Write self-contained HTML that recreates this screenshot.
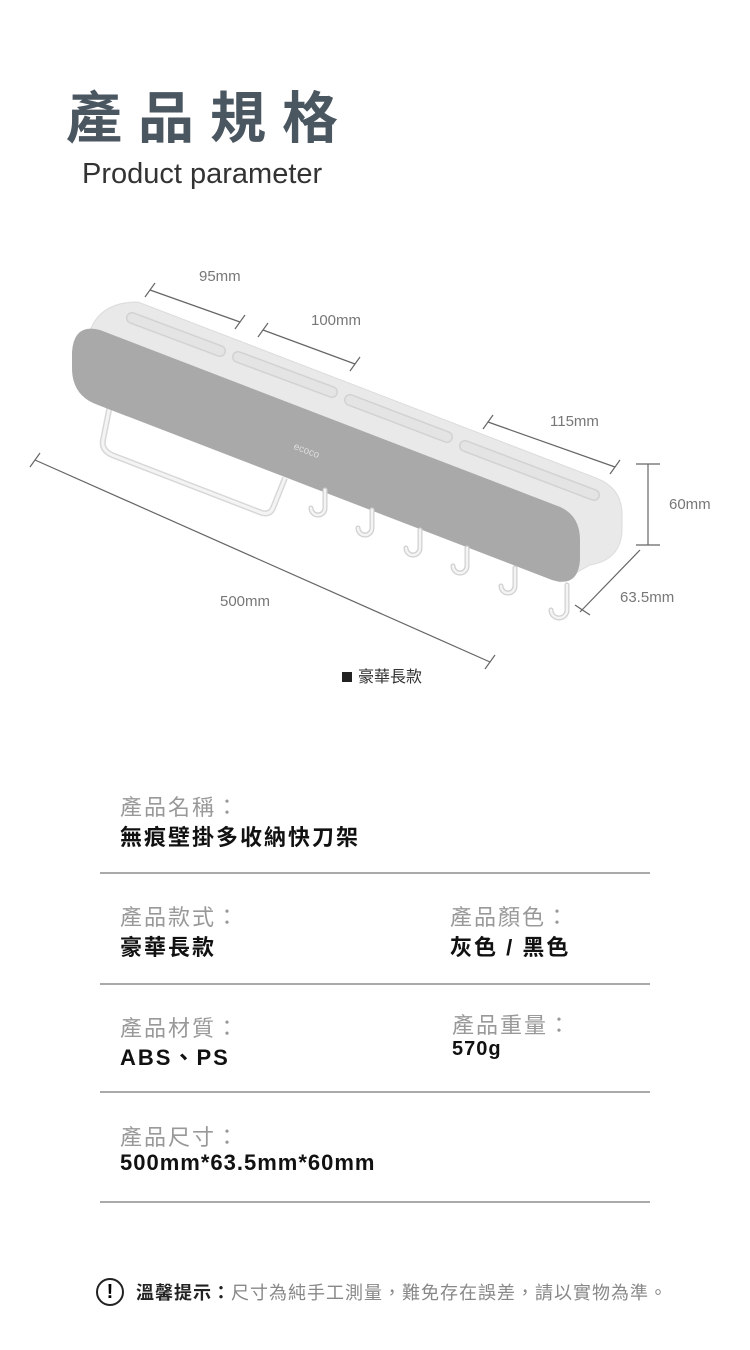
<!DOCTYPE html>
<html><head><meta charset="utf-8"><style>
body{margin:0;width:750px;height:1350px;background:#fff;position:relative;overflow:hidden;font-family:"Liberation Sans","Noto Sans CJK TC",sans-serif}
.a{position:absolute;white-space:nowrap}
.t{font-size:56px;font-weight:bold;letter-spacing:16px;color:#4a5660;left:66px;top:84px;line-height:70px}
.s{font-size:29px;color:#333;left:82px;top:158px}
.l{font-size:22px;color:#999;letter-spacing:2px}
.v{font-size:22px;color:#111;font-weight:bold;letter-spacing:2px}
.hr{position:absolute;left:100px;width:550px;height:2px;background:#aaa}
.d{font-size:15px;color:#777}
</style></head><body>
<div class="a t">產品規格</div>
<div class="a s">Product parameter</div>

<svg class="a" style="left:0;top:0" width="750" height="720">
<g stroke="#666" stroke-width="1.2" fill="none">
<line x1="150" y1="290" x2="240" y2="322"/><line x1="155" y1="283" x2="145" y2="297"/><line x1="245" y1="315" x2="235" y2="329"/>
<line x1="263" y1="330" x2="355" y2="364"/><line x1="268" y1="323" x2="258" y2="337"/><line x1="360" y1="357" x2="350" y2="371"/>
<line x1="488" y1="422" x2="615" y2="467"/><line x1="493" y1="415" x2="483" y2="429"/><line x1="620" y1="460" x2="610" y2="474"/>
<line x1="35" y1="460" x2="490" y2="662"/><line x1="40" y1="453" x2="30" y2="467"/><line x1="495" y1="655" x2="485" y2="669"/>
<line x1="648" y1="464" x2="648" y2="545"/><line x1="636" y1="464" x2="660" y2="464"/><line x1="636" y1="545" x2="660" y2="545"/>
<line x1="640" y1="550" x2="580" y2="612"/><line x1="575" y1="605" x2="590" y2="615"/>
</g>
<path d="M110 405 L103 440 Q101 450 112 455 L262 513 Q270 515 273 508 L285 478" fill="none" stroke="#d8d8d8" stroke-width="6"/>
<path d="M110 405 L103 440 Q101 450 112 455 L262 513 Q270 515 273 508 L285 478" fill="none" stroke="#f4f4f4" stroke-width="3"/>
<path d="M88 338 Q96 302 138 302 L596 478 Q622 488 622 514 L622 532 Q620 560 590 565 L560 582 L95 400 Z" fill="#e9e9e9" stroke="#dcdcdc"/>
<g stroke-linecap="round" fill="none">
<g stroke="#d2d2d2" stroke-width="12">
<line x1="132" y1="318" x2="220" y2="351"/><line x1="238" y1="357" x2="332" y2="392"/><line x1="350" y1="400" x2="447" y2="437"/><line x1="465" y1="446" x2="594" y2="495"/></g>
<g stroke="#e4e4e4" stroke-width="9">
<line x1="132" y1="318" x2="220" y2="351"/><line x1="238" y1="357" x2="332" y2="392"/><line x1="350" y1="400" x2="447" y2="437"/><line x1="465" y1="446" x2="594" y2="495"/></g>
</g>
<path d="M100 330 L555 505 Q580 513 580 540 L580 560 Q578 588 552 580 L98 405 Q72 396 72 368 L72 352 Q74 323 100 330 Z" fill="#a9a9a9"/>
<text x="293" y="455" font-size="10" fill="#ddd" transform="rotate(21 310 452)" font-family="Liberation Sans">ecoco</text>
<g fill="none" stroke-linecap="round">
<g stroke="#d0d0d0" stroke-width="5">
<path d="M325 490 v18 a7 7 0 0 1 -14 0"/><path d="M372 510 v18 a7 7 0 0 1 -14 0"/><path d="M420 530 v18 a7 7 0 0 1 -14 0"/><path d="M467 548 v18 a7 7 0 0 1 -14 0"/><path d="M515 568 v18 a7 7 0 0 1 -14 0"/><path d="M567 585 v25 a8 8 0 0 1 -16 0"/></g>
<g stroke="#f4f4f4" stroke-width="2.5">
<path d="M325 490 v18 a7 7 0 0 1 -14 0"/><path d="M372 510 v18 a7 7 0 0 1 -14 0"/><path d="M420 530 v18 a7 7 0 0 1 -14 0"/><path d="M467 548 v18 a7 7 0 0 1 -14 0"/><path d="M515 568 v18 a7 7 0 0 1 -14 0"/><path d="M567 585 v25 a8 8 0 0 1 -16 0"/></g>
</g>
<rect x="342" y="672" width="10" height="10" fill="#222"/>
<text x="358" y="682" font-size="16" fill="#333">豪華長款</text>
</svg>
<div class="a d" style="left:199px;top:268px">95mm</div>
<div class="a d" style="left:311px;top:312px">100mm</div>
<div class="a d" style="left:550px;top:413px">115mm</div>
<div class="a d" style="left:669px;top:496px">60mm</div>
<div class="a d" style="left:620px;top:589px">63.5mm</div>
<div class="a d" style="left:220px;top:593px">500mm</div>

<div class="a l" style="left:120px;top:790px">產品名稱：</div>
<div class="a v" style="left:120px;top:820px">無痕壁掛多收納快刀架</div>
<div class="hr" style="top:872px"></div>
<div class="a l" style="left:120px;top:900px">產品款式：</div>
<div class="a v" style="left:120px;top:930px">豪華長款</div>
<div class="a l" style="left:450px;top:900px">產品顏色：</div>
<div class="a v" style="left:450px;top:930px">灰色 / 黑色</div>
<div class="hr" style="top:983px"></div>
<div class="a l" style="left:120px;top:1011px">產品材質：</div>
<div class="a v" style="left:120px;top:1040px">ABS、PS</div>
<div class="a l" style="left:452px;top:1008px">產品重量：</div>
<div class="a v" style="left:452px;top:1038px;font-size:20px;letter-spacing:1px">570g</div>
<div class="hr" style="top:1091px"></div>
<div class="a l" style="left:120px;top:1120px">產品尺寸：</div>
<div class="a v" style="left:120px;top:1150px;letter-spacing:1px">500mm*63.5mm*60mm</div>
<div class="hr" style="top:1201px"></div>

<div class="a" style="left:96px;top:1278px;width:24px;height:24px;border:2px solid #222;border-radius:50%;text-align:center;font-weight:bold;font-size:20px;line-height:24px">!</div>
<div class="a" style="left:136px;top:1279px;font-size:18px;color:#888;letter-spacing:1px"><b style="color:#222">溫馨提示：</b>尺寸為純手工測量，難免存在誤差，請以實物為準。</div>
</body></html>
